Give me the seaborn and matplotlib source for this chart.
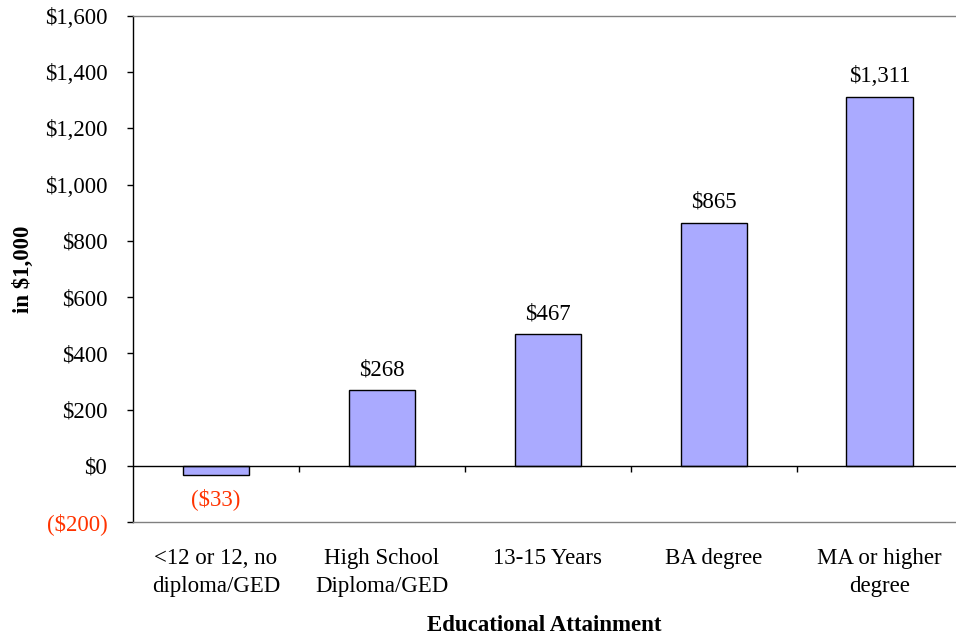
import matplotlib
matplotlib.use("Agg")
import matplotlib.pyplot as plt
import seaborn as sns
import pandas as pd
from matplotlib.ticker import FuncFormatter

# data (in $1,000)
categories = ["<12 or 12, no\ndiploma/GED", "High School\nDiploma/GED", "13-15 Years",
              "BA degree", "MA or higher\ndegree"]
values = [-33, 268, 467, 865, 1311]
bar_labels = ["($33)", "$268", "$467", "$865", "$1,311"]
y_ticks = [-200, 0, 200, 400, 600, 800, 1000, 1200, 1400, 1600]

RED = "#FF3300"
BAR = "#AAAAFF"

sns.set_theme(style="white")
plt.rcParams['font.family'] = ['Liberation Serif', 'DejaVu Serif']
plt.rcParams.update({"text.color": "black", "axes.labelcolor": "black",
                     "xtick.color": "black", "ytick.color": "black"})
FS = 16.5

df = pd.DataFrame({"cat": categories, "val": values})

fig = plt.figure(figsize=(9.56, 6.38), dpi=100)
ax = fig.add_axes([133 / 956, 1 - 522 / 638, 1 - 133 / 956, (522 - 16) / 638])

sns.barplot(data=df, x="cat", y="val", color=BAR, width=0.4, edgecolor="black",
            linewidth=1, saturation=1, ax=ax)

ax.set_xlim(-0.5, 4.46)
ax.set_ylim(-200, 1600)
ax.set_yticks(y_ticks)
ax.yaxis.set_major_formatter(FuncFormatter(
    lambda v, p: f"(${abs(v):,.0f})" if v < 0 else f"${v:,.0f}"))

# zero line with category divider ticks
ax.axhline(0, color="black", lw=1, zorder=3)
ax.vlines([0.5, 1.5, 2.5, 3.5], -21, 0, color="black", lw=1, zorder=3)

for i, (v, lab) in enumerate(zip(values, bar_labels)):
    if v >= 0:
        ax.annotate(lab, (i, v), xytext=(0, 11), textcoords="offset points",
                    ha="center", va="baseline", fontsize=FS, color="black")
    else:
        ax.annotate(lab, (i, v), xytext=(0, -17), textcoords="offset points",
                    ha="center", va="center", fontsize=FS, color=RED)

for side in ["top", "bottom"]:
    ax.spines[side].set_color("#808080")
    ax.spines[side].set_linewidth(1)
ax.spines["left"].set_color("black")
ax.spines["left"].set_linewidth(1)
ax.spines["right"].set_visible(False)

ax.tick_params(axis="y", direction="out", length=4.5, width=1, color="black",
               pad=14, labelsize=FS, left=True, labelcolor="black")
ax.tick_params(axis="x", length=0, pad=19, labelsize=FS, labelcolor="black")
for t in ax.get_yticklabels():
    if t.get_text().startswith("("):
        t.set_color(RED)
for t in ax.get_xticklabels():
    t.set_linespacing(1.4)

ax.set_xlabel("Educational Attainment", fontsize=FS, fontweight="bold", labelpad=13,
              color="black")
ax.set_ylabel("in $1,000", fontsize=FS, fontweight="bold", labelpad=8, color="black")

fig.savefig("out.png", dpi=100)
